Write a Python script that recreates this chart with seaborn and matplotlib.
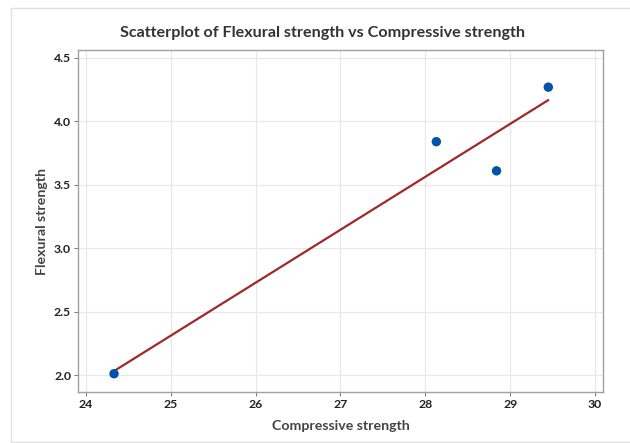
import numpy as np
import pandas as pd
import matplotlib
matplotlib.use("Agg")
import matplotlib.pyplot as plt
import seaborn as sns
from matplotlib.patches import Rectangle

compressive = [24.33, 28.13, 28.84, 29.45]
flexural = [2.01, 3.84, 3.61, 4.27]
x_ticks = [24, 25, 26, 27, 28, 29, 30]
y_ticks = [2.0, 2.5, 3.0, 3.5, 4.0, 4.5]

df = pd.DataFrame({"Compressive strength": compressive, "Flexural strength": flexural})

sns.set_theme(style="white")
plt.rcParams["font.family"] = ["Lato", "DejaVu Sans"]

fig = plt.figure(figsize=(6.3, 4.43), dpi=100)
ax = fig.add_axes([78/630, 1-392/443, (603-78)/630, (392-50)/443])

sns.regplot(data=df, x="Compressive strength", y="Flexural strength", ax=ax, ci=None,
            scatter_kws=dict(s=46, color="#0054A6", edgecolor="none", alpha=1, zorder=3),
            line_kws=dict(color="#A0282A", lw=1.6, zorder=2))

ax.set_xlim(23.905, 30.095)
ax.set_ylim(1.866, 4.563)
ax.set_xticks(x_ticks)
ax.set_yticks(y_ticks)
ax.set_xticklabels([str(t) for t in x_ticks])
ax.set_yticklabels([f"{t:.1f}" for t in y_ticks])
ax.grid(True, color="#E8E8E8", lw=0.9)
ax.set_axisbelow(True)
for s in ax.spines.values():
    s.set_color("#A0A0A0")
    s.set_linewidth(1.0)
ax.tick_params(axis="both", which="both", direction="out", length=3, width=0.8,
               color="#808080", labelsize=8.8, labelcolor="#222222", pad=2,
               bottom=True, left=True)
for lab in ax.get_xticklabels() + ax.get_yticklabels():
    lab.set_fontweight("bold")
ax.set_xlabel("Compressive strength", fontsize=10.2, color="#444444", fontweight="bold", labelpad=7)
ax.set_ylabel("Flexural strength", fontsize=10.2, color="#444444", fontweight="bold", labelpad=4)

fig.text(0.512, 1-33/443, "Scatterplot of Flexural strength vs Compressive strength",
         ha="center", va="center", fontsize=11.6, color="#333333", fontweight="bold")

fig.patches.append(Rectangle((11/630, 0.002), 1, 1-8/443-0.002, transform=fig.transFigure,
                             fill=False, edgecolor="#E0E0E0", lw=1.0))

fig.savefig("out.png", dpi=100)
